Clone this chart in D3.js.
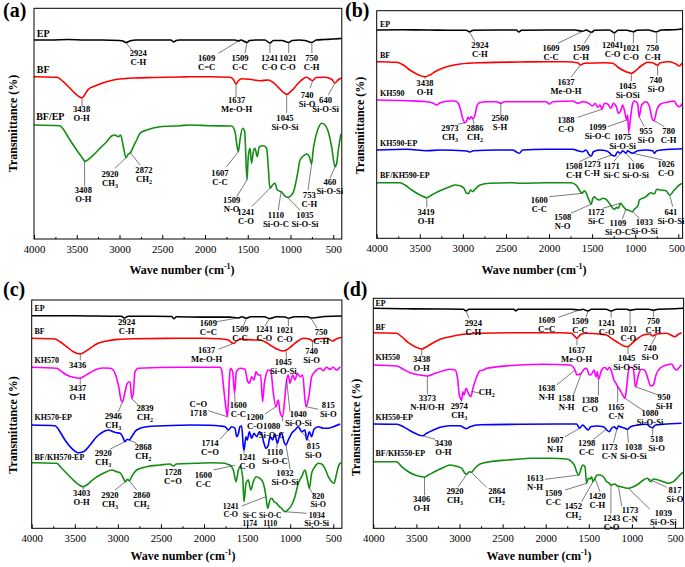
<!DOCTYPE html>
<html lang="en">
<head>
<meta charset="utf-8">
<title>FTIR spectra</title>
<script src="https://d3js.org/d3.v7.min.js"></script>
<style>
  body { margin: 0; background: #fff; }
  svg { display: block; }
  text { font-family: "Liberation Serif", "Times New Roman", serif; }
</style>
</head>
<body>
<script>
// ---- data: [wave number (cm-1), transmittance (a.u.)] ----
// panel (a)
const aEP = [[4000,199],[3800,199],[3600,199.5],[3400,199],[3200,199],[3000,198.5],[2960,198],[2924,196.5],[2880,198],[2800,199],[2600,199],[2400,199],[2365,197],[2340,198.5],[2300,199],[2000,199],[1800,199],[1650,199],[1609,198],[1580,199],[1509,196.5],[1480,198.5],[1400,199],[1300,199],[1241,196],[1200,198.5],[1100,198.5],[1021,196.5],[980,198.5],[900,199],[830,198.5],[750,196.5],[700,199],[600,199.5],[500,200],[400,200.5]];
const aBF = [[4000,162.3],[3735,161.7],[3657,157.3],[3579,150.7],[3520,145.7],[3438,141.3],[3365,149.7],[3287,153],[3189,156.3],[3072,159],[2955,160.3],[2838,161],[2600,161.5],[2293,162],[2176,162.3],[1942,162.3],[1708,161.7],[1669,159.7],[1637,155],[1610,158.3],[1571,160.3],[1474,159.7],[1357,158.3],[1260,159],[1201,156.3],[1143,151.7],[1084,146.7],[1045,144.7],[987,148.3],[909,155.7],[850,160.3],[811,161.7],[760,159],[740,158.5],[700,161.5],[600,161.7],[519,159.7],[480,156],[445,159],[400,161]];
const aBFEP = [[4000,114],[3700,113.3],[3638,107.3],[3579,99],[3501,89],[3423,79.7],[3408,77.7],[3326,82.3],[3228,90.7],[3150,97.3],[3092,103],[3053,104],[3014,102.3],[2987,104],[2955,92.3],[2924,81.3],[2897,85],[2872,86.3],[2838,92.3],[2799,99],[2760,105.7],[2682,109],[2526,112.3],[2293,113.3],[2176,114],[1942,113.3],[1688,113],[1649,107.3],[1630,95.7],[1610,87.3],[1591,99],[1560,110.7],[1536,107.3],[1509,59],[1494,82.3],[1474,90.7],[1455,75.7],[1435,87.3],[1416,90.7],[1388,82.3],[1365,92.3],[1318,93.3],[1279,90.7],[1260,72.3],[1241,50.7],[1209,54],[1182,55.7],[1154,49],[1110,47.3],[1065,43],[1035,41.7],[987,44],[948,52.3],[917,65.7],[889,79],[850,83],[811,85],[780,82.3],[753,75],[735,89],[714,99],[675,110.7],[636,115.7],[597,114],[558,107.3],[519,92.3],[480,72.3],[460,75.7],[441,89],[410,105]];

// panel (b)
const bEP = [[4000,208.3],[3700,208.5],[3400,208.3],[3100,208],[2960,208],[2924,206.5],[2880,208],[2600,208.3],[2380,208.3],[2350,206.3],[2320,208],[2000,208.3],[1700,208.3],[1609,207],[1570,208.3],[1509,206],[1470,208],[1300,208.3],[1241,205.5],[1200,208],[1100,208],[1021,206.5],[980,208],[850,208.3],[750,206.5],[700,208.3],[550,208.5],[450,209.5]];
const bBF = [[4000,176.6],[3768,176],[3691,173.3],[3614,168.3],[3536,164.3],[3438,161.6],[3382,163.3],[3304,167.6],[3188,171.6],[3033,174.3],[2801,175.6],[2337,176.3],[2000,176.6],[1800,176.6],[1668,175.6],[1637,173.3],[1590,175],[1339,175.6],[1262,175],[1184,170],[1107,166.6],[1045,165],[1010,166.6],[933,172.3],[855,176],[797,175.6],[740,173],[710,175.6],[604,176.6],[527,174.3],[488,172.3],[450,175.6]];
const bKH590 = [[4000,138.3],[3652,137.6],[3420,136.6],[3343,135],[3304,133.3],[3265,135.6],[3150,137.3],[3091,137.3],[3053,135],[3026,128.3],[3003,120],[2973,115.6],[2955,117.6],[2940,121],[2925,119],[2905,121.6],[2886,119.6],[2859,123.3],[2840,131.6],[2809,135.6],[2724,136.6],[2608,136.6],[2560,135],[2520,136.6],[2337,136.6],[2190,136.6],[2035,136.6],[1997,134.3],[1958,136.6],[1726,137.3],[1668,135],[1610,136.6],[1552,135.6],[1494,132.3],[1463,135],[1436,131],[1408,133.3],[1385,129],[1358,135],[1320,134.3],[1281,130],[1254,135],[1223,132.3],[1192,125],[1165,128.3],[1146,133.3],[1126,128.3],[1099,118.3],[1088,123.3],[1075,106.6],[1055,120],[1029,135],[1010,137.3],[972,135],[955,121.6],[925,133.3],[875,136.6],[836,132.3],[805,120],[780,117.6],[750,128.3],[705,134.3],[604,136.6],[546,137.3],[519,133.3],[488,131.6],[450,135]];
const bKH590EP = [[4000,88.3],[3650,89],[3420,87.6],[3265,88.3],[2956,87.3],[2917,86.3],[2879,87.6],[2600,88.3],[2420,88.3],[2383,86.6],[2345,85],[2306,88.3],[2035,89],[1726,89],[1668,87.6],[1610,86.6],[1571,88.3],[1532,83.3],[1508,82.3],[1486,86.6],[1416,88.3],[1339,87.6],[1300,85.6],[1273,83.3],[1235,82.3],[1204,86.6],[1171,85],[1146,87.6],[1106,85],[1088,87.6],[1049,85.6],[1026,85],[972,87.6],[875,88.3],[797,87.6],[778,85],[751,87.6],[604,89],[450,89.6]];
const bBFKH590EP = [[4000,55.6],[3730,55.6],[3672,53.3],[3594,48.3],[3498,43.3],[3419,40.6],[3362,43.3],[3265,47.6],[3150,51.6],[3091,53.3],[3033,52.6],[2987,50],[2956,45],[2937,44.6],[2910,48.3],[2886,46.6],[2859,49],[2801,53.3],[2685,55],[2420,55.6],[2345,55],[2035,55.6],[1745,55.6],[1687,53.3],[1648,48.3],[1617,45],[1590,47.6],[1571,45.6],[1545,40],[1508,34.3],[1494,39.6],[1470,41.6],[1455,40],[1416,38.3],[1378,40],[1339,39],[1300,35],[1240,29],[1215,31],[1195,30],[1172,35],[1153,33.3],[1109,29],[1075,28],[1033,26.6],[1010,29],[965,33.3],[952,38.3],[875,41.6],[817,45.6],[778,44.3],[751,49],[701,48.3],[643,47.6],[600,43.3],[546,48.3],[488,53.3],[450,55]];

// panel (c)
const cEP = [[4000,212.5],[3500,212.5],[3000,212],[2960,212],[2924,210.3],[2880,212],[2600,212],[2375,211.8],[2350,209.6],[2320,211.5],[2000,211.2],[1700,211.2],[1609,210.3],[1560,211.5],[1509,210],[1460,211.5],[1300,211.5],[1241,209.8],[1160,211.5],[1060,211.3],[1021,210],[950,211.5],[800,211.5],[750,210.3],[600,211.8],[400,212.3]];
const cBF = [[4000,190],[3730,189.3],[3672,186.6],[3594,181.6],[3517,176.6],[3436,174.3],[3401,175.6],[3323,180],[3246,184.3],[3130,187.3],[2975,189],[2821,189.6],[2279,190],[2008,190],[1815,189.6],[1718,188.3],[1679,185.6],[1652,185],[1621,187.6],[1544,189],[1428,188.3],[1351,188.3],[1293,186.6],[1235,183.3],[1157,179.3],[1080,177.3],[1045,178.3],[983,182.3],[906,187.6],[848,190],[771,189],[740,187.3],[693,189.3],[577,190],[507,187.3],[461,189.6],[400,191]];
const cKH570 = [[4000,161],[3710,160],[3652,156.6],[3594,153.3],[3517,151],[3437,150],[3401,151.6],[3323,155.6],[3246,159],[3169,160.3],[3092,160],[3053,158.3],[3014,150],[2983,138.3],[2964,128.3],[2946,126.6],[2917,136.6],[2890,145],[2859,146.6],[2839,130],[2821,135],[2801,156.6],[2763,160],[2279,161],[1931,161],[1815,161],[1796,158.3],[1770,138.3],[1745,120],[1730,111.6],[1718,125],[1705,150],[1695,160],[1668,156.6],[1645,135],[1625,156.6],[1583,160],[1525,159],[1498,148.3],[1474,145],[1447,151.6],[1420,148.3],[1397,156.6],[1370,153.3],[1343,153.3],[1320,126.6],[1300,145],[1281,153.3],[1254,158.3],[1223,156.6],[1200,138.3],[1165,121.6],[1138,128.3],[1119,116.6],[1088,111.6],[1061,131.6],[1041,148.3],[1022,153.3],[1003,145],[972,153.3],[945,148.3],[917,155],[886,151.6],[855,153.3],[828,128.3],[815,121.6],[778,135],[751,151.6],[713,156.6],[654,160],[616,157.6],[577,161],[538,159],[500,161],[461,158.3],[420,161.6]];
const cKH570EP = [[4000,103.3],[3730,102.6],[3672,96.6],[3614,88.3],[3536,80],[3459,75.6],[3401,76.6],[3323,83.3],[3246,91.6],[3169,96.6],[3111,98.3],[3053,96.6],[3014,95.6],[2975,95],[2936,90],[2920,86.6],[2890,89],[2868,88.3],[2840,91.6],[2782,98.3],[2666,101.6],[2279,103],[2163,103.3],[1931,103],[1815,102.3],[1757,101.6],[1718,98.3],[1679,101.6],[1641,100],[1621,91.6],[1602,94.3],[1583,101.6],[1563,102.3],[1544,81.6],[1536,78.3],[1513,91.6],[1498,88.3],[1474,96.6],[1447,90],[1420,95],[1389,91.6],[1358,96.6],[1331,94.3],[1304,85],[1281,80],[1254,83.3],[1235,91.6],[1204,88.3],[1177,94.3],[1150,85],[1126,91.6],[1099,95],[1072,86.6],[1049,83.3],[1022,88.3],[983,95],[945,98.3],[906,101.6],[867,96.6],[828,98.3],[809,88.3],[778,96.6],[751,91.6],[724,99],[674,101.6],[616,100],[558,100],[500,101.6],[420,104.3]];
const cBFKH570EP = [[4000,65.6],[3710,65],[3652,60],[3575,53.3],[3498,46.6],[3403,41.6],[3362,43.3],[3285,49],[3208,53.3],[3130,56.6],[3072,58.3],[3014,56.6],[2968,55],[2936,50],[2913,46.6],[2890,49],[2867,47.6],[2840,51.6],[2782,58.3],[2666,61.6],[2511,63.3],[2395,64.3],[2356,62.3],[2320,64.3],[2086,65],[1892,65.6],[1757,65],[1728,64],[1699,63.3],[1660,58.3],[1629,46.6],[1602,58.3],[1583,61.6],[1552,51.6],[1536,26.6],[1513,45],[1486,48.3],[1458,38.3],[1428,46.6],[1397,51.6],[1351,50],[1312,45],[1281,31.6],[1262,20],[1235,28.3],[1215,30],[1188,26.6],[1157,25],[1126,21.6],[1099,20],[1061,16.6],[1022,19],[983,23.3],[945,31.6],[906,45],[867,51.6],[828,58.3],[801,49],[778,40],[751,55],[713,61.6],[674,65],[635,64.3],[597,60],[558,51.6],[519,46.6],[492,45],[469,51.6],[442,61.6],[410,66]];

// panel (d)
const dEP = [[4000,220],[3600,219.5],[3200,219.3],[2955,219],[2924,217.5],[2890,219],[2400,219],[2370,219],[2350,217.5],[2320,219],[2000,219],[1700,219],[1609,218.3],[1570,219],[1509,217.3],[1470,219],[1300,219],[1241,217.3],[1180,219],[1060,219],[1021,218],[950,219],[800,219],[750,218],[700,219],[500,219.5],[400,220]];
const dBF = [[4000,195.6],[3729,195],[3671,191.6],[3593,185.6],[3516,181.6],[3438,179.3],[3381,181.6],[3303,185.6],[3226,189],[3110,191.6],[2955,194],[2762,195],[2298,195.6],[1834,195.6],[1699,195],[1660,191.6],[1637,190],[1602,193.3],[1544,195],[1370,194.3],[1292,193.3],[1254,191],[1177,186.6],[1099,182.6],[1045,181.6],[1022,183.3],[945,189],[867,193.3],[790,194.3],[759,192.3],[713,194.3],[597,195],[527,192.3],[500,191.6],[461,194],[423,195.6]];
const dKH550 = [[4000,163.3],[3729,162.3],[3651,159],[3574,155.6],[3458,153.3],[3373,152.3],[3284,155],[3187,157.6],[3110,159],[3052,158.3],[3025,151.6],[3002,133.3],[2974,128.3],[2963,136.6],[2948,133.3],[2924,140],[2897,135],[2870,131.6],[2839,141.6],[2800,151.6],[2762,157.6],[2723,158.3],[2684,160],[2298,163.3],[2027,164],[1718,163.3],[1660,158.3],[1638,153.3],[1610,154],[1583,155.6],[1556,159],[1525,160],[1494,153.3],[1467,154.3],[1440,158.3],[1416,151.6],[1401,156.6],[1388,149],[1351,158.3],[1312,161],[1285,158.3],[1262,161],[1235,156.6],[1208,148.3],[1184,145],[1165,141.6],[1138,138.3],[1107,133.3],[1080,130],[1060,141.6],[1041,156.6],[1022,161],[983,160],[960,141.6],[950,143],[925,153.3],[886,159],[848,157.6],[809,148.3],[782,142.3],[751,143.3],[720,153.3],[674,160],[597,163.3],[539,164.3],[508,160],[481,158.3],[450,161],[423,163.3]];
const dKH550EP = [[4000,104.3],[3729,104],[3651,101.6],[3574,97.6],[3497,94.3],[3430,92.6],[3381,95],[3303,98.3],[3226,101],[3110,102.6],[2994,102.6],[2948,100.6],[2924,99.6],[2878,101.6],[2762,103.6],[2298,104],[1641,104.3],[1607,100],[1571,103.3],[1532,100],[1505,98.3],[1478,101.6],[1408,102.3],[1331,101.6],[1298,99],[1262,96.6],[1235,100],[1208,101.6],[1173,99.3],[1157,102.3],[1118,101],[1080,100],[1053,99],[1014,101.6],[945,103],[829,104],[790,101.6],[759,100.6],[732,103],[635,104],[423,105]];
const dBFKH550EP = [[4000,66.6],[3729,66.6],[3671,61.6],[3593,56.6],[3516,53.3],[3439,51.6],[3406,51.3],[3361,53.3],[3265,57.6],[3168,61.6],[3110,63.3],[3052,62.3],[3013,61.6],[2975,60],[2936,55],[2917,54],[2886,56.6],[2864,56],[2820,60],[2762,64.3],[2646,66.6],[2452,68.3],[2298,69.3],[2182,70],[1950,70],[1757,69.3],[1699,66.6],[1660,61.6],[1641,56.6],[1613,53.3],[1594,58.3],[1571,63.3],[1544,61.6],[1525,45],[1505,50],[1486,49.3],[1467,51.6],[1452,46.6],[1428,50],[1401,53.3],[1370,53.3],[1331,51.6],[1292,46.6],[1262,45],[1243,43.3],[1196,44.3],[1173,42.6],[1157,42.3],[1099,41],[1041,40],[983,41.6],[925,44.3],[867,48.3],[821,50],[782,46.6],[751,49.3],[693,48.3],[635,46.6],[577,45],[519,46.6],[461,51.6],[423,55],[400,56]];

// trace names and where their labels sit (wave number, transmittance)
const aNames = ["EP", "BF", "BF/EP"];
const aNamePos = [[3968,202.5],[3968,166],[3975,119]];
const bNames = ["EP", "BF", "KH590", "KH590-EP", "BF/KH590-EP"];
const bNamePos = [[3962,211.3],[3962,180.3],[3962,142],[3962,92.6],[3962,60.3]];
const cNames = ["EP", "BF", "KH570", "KH570-EP", "BF/KH570-EP"];
const cNamePos = [[3967,217.3],[3967,194.8],[3967,165.3],[3967,108],[3967,68.6]];
const dNames = ["EP", "BF", "KH550", "KH550-EP", "BF/KH550-EP"];
const dNamePos = [[3975,222.8],[3975,198],[3975,168],[3975,108.6],[3975,72.6]];

// peak notes: leader from [x1,v1] to [x2,v2], text centred at tx, first baseline tv
// optional 9th item: line gap, 10th item: font size
const aNotes = [
  [2924,196.5,2858,189,2780,183,"2924","C-H"],
  [1609,198,1844,185.7,1981,178.5,"1609","C=C"],
  [1509,196.5,1532,185.7,1591,178.5,"1509","C-C"],
  [1241,196,1241,186,1244,178.5,"1241","C-O"],
  [1021,196.5,1021,186,1030,178.5,"1021","C-O"],
  [750,196.5,750,186,753,178.5,"750","C-H"],
  [3438,141.3,3438,133,3443,127.5,"3438","O-H"],
  [1637,155,1637,142,1630,136,"1637","Me-O-H"],
  [1045,144.7,1045,126,1065,118.5,"1045","Si-O-Si"],
  [740,158.5,772,150.7,805,141,"740","Si-O"],
  [480,156,558,144,590,136,"640","Si-O-Si"],
  [3408,77.7,3408,53,3423,46,"3408","O-H"],
  [2924,81.3,3053,70.7,3111,62.5,"2920","CH_3"],
  [2872,86.3,2760,74,2714,66,"2872","CH_2"],
  [1610,87.3,1747,72.3,1825,63.5,"1607","C-C"],
  [1509,59,1630,42.3,1688,36,"1509","N-O"],
  [1241,50.7,1454,32.3,1521,24,"1241","C-O"],
  [1110,47.3,1143,29,1170,21,"1110","Si-O-C"],
  [1035,41.7,889,29,831,21,"1035","Si-O-Si"],
  [753,75,795,49,780,41,"753","C-H"],
  [460,75.7,538,60.7,540,54,"460","Si-O-Si"]
];
const bNotes = [
  [2924,206.5,2859,196.6,2802,190.3,"2924","C-H"],
  [1609,207,1900,195,1977,187,"1609","C-C"],
  [1509,206,1590,195,1629,187,"1509","C-H"],
  [1241,205.5,1241,197,1262,190.3,"12041","C-O"],
  [1021,206.5,1021,195,1049,187,"1021","C-O"],
  [750,206.5,750,195,797,187,"750","C-H"],
  [3438,161.6,3438,159.5,3440,152.6,"3438","O-H"],
  [1637,173.3,1745,161,1803,153.6,"1637","Me-O-H"],
  [1045,165,1045,157,1088,149.3,"1045","Si-OSi"],
  [740,173,740,163,759,155.3,"740","Si-O"],
  [2973,115.6,3060,114,3150,107,"2973","CH_3"],
  [2886,119.6,2870,114,2859,107,"2886","CH_2"],
  [2560,135,2560,123.3,2569,117,"2560","S-H"],
  [1385,129,1668,121,1803,115.3,"1388","C-O"],
  [1099,118.3,1320,111.6,1436,108,"1099","Si-O-C"],
  [1075,106.6,1075,104,1146,98.6,"1075","Si-O-Si"],
  [955,121.6,894,111.6,875,104.3,"955","Si-O"],
  [780,117.6,662,111.6,612,104.3,"780","C-H"],
  [1508,82.3,1648,76.6,1712,69.6,"1508","C-H"],
  [1273,83.3,1436,78.3,1500,71.3,"1273","C-H"],
  [1171,85,1250,76.6,1275,69.6,"1171","Si-C"],
  [1106,85,1020,76.6,995,69.6,"1106","Si-O-Si"],
  [1026,85,681,78.3,643,71.3,"1026","C-O"],
  [3419,40.6,3419,31,3428,23.6,"3419","O-H"],
  [1610,45,1997,41.6,2113,35.3,"1600","C-C"],
  [1508,34.3,1745,25,1842,18.6,"1508","N-O"],
  [1172,35,1378,30,1455,23.6,"1172","Si-C"],
  [1109,29,1150,19,1200,12,"1109","Si-O-C"],
  [1033,26.6,952,20,894,13.6,"1033","Si-O-Si"],
  [600,43.3,565,31.6,585,23.6,"641","Si-O-Si"]
];
const cNotes = [
  [null,0,0,0,2898,203.6,"2924","C-H"],
  [1609,210.3,1853,206.6,1950,202,"1609","C=C"],
  [1509,210,1544,202.3,1583,196,"1509","C-C"],
  [1241,209.8,1293,202.3,1300,196,"1241","C-O"],
  [1021,210,1021,202.3,1061,195.3,"1021","C-O"],
  [760,210.3,690,200.3,640,193.6,"750","C-H"],
  [3436,174.3,3436,168,3467,160.3,"3436",""],
  [1652,185,1834,179,1970,175.3,"1637","Me-O-H"],
  [1045,178.3,1045,169.5,1080,163.6,"1045","Si-O-Si"],
  [740,187.3,740,180.5,751,174.6,"740","Si-O"],
  [3437,150,3437,144,3467,137,"3437","O-H"],
  [2946,126.6,2995,116.6,3053,109.3,"2946","CH_3"],
  [2845,130,2763,123.3,2685,117.6,"2839","CH_2"],
  [1730,111.6,1950,117.6,2066,121.3,"C=O","1718"],
  [1645,135,1640,126.6,1602,120.3,"1600","C-C"],
  [1165,121.6,1293,114.3,1409,108.6,"1200","C-O"],
  [1088,111.6,1088,107,1215,99.6,"1080","Si-O-C"],
  [1041,148.3,1003,116.6,906,111.3,"1040","Si-O-Si"],
  [815,121.6,674,119,558,120.3,"815","Si-O"],
  [2920,86.6,3092,79,3169,72,"2920","CH_3"],
  [2868,88.3,2782,85,2705,78.6,"2868","CH_2"],
  [1718,98.3,1815,89,1931,82,"1714","C=O"],
  [1536,78.3,1536,75,1498,68.6,"1241","C-O"],
  [1150,85,1157,80,1177,73.6,"1110","Si-O-C"],
  [1049,83.3,1000,59,1061,52,"1032","Si-O-Si"],
  [867,96.6,770,86.6,732,79.6,"815","Si-O"],
  [3403,41.6,3403,38.5,3420,32,"3403","O-H"],
  [2913,46.6,3033,38.3,3092,30.3,"2920","CH_3"],
  [2867,47.6,2782,38.3,2724,30.3,"2860","CH_2"],
  [null,0,0,0,2360,53.6,"1728","C=O"],
  [1640,63,1892,58.3,2008,50.3,"1600","C-C"],
  [1281,31.6,1563,22.3,1690,19.5,"1241","C-O",8,8],
  [null,0,0,0,1470,10.5,"Si-C","1174",8,7.4],
  [null,0,0,0,1232,10.5,"Si-O-C","1110",8,7.4],
  [1061,16.6,809,15,693,10.3,"1034","Si-O-Si",7.8,8],
  [778,40,732,34,674,29,"820","Si-O",8,8]
];
const dNotes = [
  [2924,217.5,2890,210,2839,202,"2924","C-H"],
  [1609,218.3,1853,211,1989,205.3,"1609","C=C"],
  [1509,217.3,1532,211,1602,204.3,"1509","C-C"],
  [1241,217.3,1241,210.5,1292,202,"1241","C-O"],
  [1021,218,1021,203,1041,196,"1021","C-O"],
  [750,218,750,211,751,204.3,"750","C-H"],
  [3438,179.3,3438,172.5,3439,166,"3438","O-H"],
  [1637,190,1637,183,1641,175.3,"1637","Me-O-H"],
  [1045,181.6,1045,174,1060,167,"1045","Si-O-Si"],
  [713,194,770,184,790,177,"740","Si-O"],
  [3373,152.3,3373,134,3373,127,"3373","N-H/O-H"],
  [2974,128.3,2986,126,3002,119.3,"2974","CH_3"],
  [2860,137,2760,135,2684,133.6,"CH_2",""],
  [1660,158.3,1873,143.3,1989,137,"1638","N-H"],
  [1583,155.6,1679,133.3,1757,127,"1581","N-H"],
  [1388,149,1388,133,1486,125.3,"1388","C-O"],
  [1165,141.6,1165,126,1184,118.6,"1165","C-N"],
  [960,141.6,693,133.3,627,128,"950","Si-H"],
  [1080,130,867,117.6,790,112,"1080","Si-O-Si"],
  [3430,92.6,3284,89,3187,82,"3430","O-H"],
  [1607,100,1776,91.6,1892,85.3,"1607","N-H"],
  [1298,99,1447,89,1525,82,"1298","C-C"],
  [1173,99.3,1215,85.6,1262,78.6,"1173","C-N"],
  [1053,99,1041,85.6,983,78.6,"1038","Si-O-Si"],
  [759,100.6,759,93,712,86,"518","Si-O"],
  [3406,51.3,3406,33,3439,26.3,"3406","O-H"],
  [2917,54,3013,41.6,3052,34.6,"2920","CH_3"],
  [2864,56,2684,41,2568,34.6,"2864","CH_2"],
  [1613,53.3,2008,49,2124,47,"1613","N-H"],
  [1525,45,1776,38.3,1911,32.6,"1509","C-C"],
  [1452,46.6,1583,26.6,1679,19.3,"1452","CH_2"],
  [1428,50,1370,36.6,1401,29.3,"1420","C-H"],
  [1243,43.3,1243,15,1235,7.6,"1243","C-O",8.8],
  [1157,42.3,1118,22.3,1022,15.3,"1173","C-N"],
  [1041,40,790,19,635,12,"1039","Si-O-Si"],
  [821,50,597,41,500,35.3,"817","Si-O"]
];

const majorTicks = [4000, 3500, 3000, 2500, 2000, 1500, 1000, 500];
const minorTicks = [3750, 3250, 2750, 2250, 1750, 1250, 750];
const colors = ["#000000", "#ff0000", "#ff00ff", "#0000ff", "#138d13"];

// ---- layout ----
const W = 685, H = 567;
const serif = "'Liberation Serif', 'Times New Roman', serif";
const noteSize = 8.6;
const noteGap = 9;
const panels = [
  { tag: "(a)", series: [aEP, aBF, aBFEP], cols: [colors[0], colors[1], colors[4]],
    names: aNames, namePos: aNamePos, notes: aNotes, nameSize: 10,
    left: 34, right: 341.8, top: 8.3, bottom: 239, end: 400,
    tagX: 3, tagY: 16.5, titleX: 182, titleY: 274, yTitleX: 12.5, yTitleY: 123.5 },
  { tag: "(b)", series: [bEP, bBF, bKH590, bKH590EP, bBFKH590EP], cols: colors,
    names: bNames, namePos: bNamePos, notes: bNotes, nameSize: 8,
    left: 376.7, right: 682.6, top: 10.7, bottom: 238.3, end: 450,
    tagX: 345, tagY: 16.5, titleX: 534, titleY: 274, yTitleX: 360, yTitleY: 125.5 },
  { tag: "(c)", series: [cEP, cBF, cKH570, cKH570EP, cBFKH570EP], cols: colors,
    names: cNames, namePos: cNamePos, notes: cNotes, nameSize: 8,
    left: 31.7, right: 341.9, top: 300, bottom: 528.3, end: 400,
    tagX: 3, tagY: 296, titleX: 183, titleY: 560, yTitleX: 12.5, yTitleY: 425 },
  { tag: "(d)", series: [dEP, dBF, dKH550, dKH550EP, dBFKH550EP], cols: colors,
    names: dNames, namePos: dNamePos, notes: dNotes, nameSize: 8,
    left: 373.3, right: 683.6, top: 298.3, bottom: 528.3, end: 400,
    tagX: 343, tagY: 296, titleX: 539, titleY: 560, yTitleX: 356, yTitleY: 427.5 }
];

const svg = d3.select("body").append("svg")
  .attr("width", W).attr("height", H);

// text with "CH_3" style subscripts
function putText(sel, str, size) {
  const parts = str.split("_");
  sel.text(null);
  sel.append("tspan").text(parts[0]);
  if (parts.length > 1) {
    sel.append("tspan").attr("font-size", size * 0.7).attr("dy", size * 0.25).text(parts[1]);
  }
}

panels.forEach(function (p, pi) {
  const x = d3.scaleLinear().domain([4000, p.end]).range([p.left, p.right]);
  const y = d3.scaleLinear().domain([0, p.bottom - p.top]).range([p.bottom, p.top]);
  const g = svg.append("g");

  g.append("clipPath").attr("id", "clip" + pi)
    .append("rect").attr("x", p.left).attr("y", p.top)
    .attr("width", p.right - p.left).attr("height", p.bottom - p.top);

  // ticks (inward) on the bottom axis
  const major = g.append("g").attr("transform", "translate(0," + p.bottom + ")")
    .call(d3.axisBottom(x).tickValues(majorTicks).tickFormat(d3.format("d"))
      .tickSizeInner(-4).tickSizeOuter(0).tickPadding(6.5));
  major.select(".domain").remove();
  major.selectAll("text")
    .style("font-family", serif).style("font-size", "10.8px").attr("fill", "#000");
  // keep the last label inside the picture
  major.selectAll("text").each(function (d) {
    const box = this.getBBox();
    const right = x(d) + box.x + box.width;
    if (right > W - 0.5) d3.select(this).attr("dx", (W - 0.5 - right).toFixed(1));
  });
  const minor = g.append("g").attr("transform", "translate(0," + p.bottom + ")")
    .call(d3.axisBottom(x).tickValues(minorTicks).tickSizeInner(-2).tickSizeOuter(0));
  minor.select(".domain").remove();
  minor.selectAll("text").remove();

  // spectra
  const line = d3.line()
    .x(function (d) { return x(d[0]); })
    .y(function (d) { return y(d[1]); })
    .curve(d3.curveMonotoneX);
  const traces = g.append("g").attr("clip-path", "url(#clip" + pi + ")");
  p.series.forEach(function (s, i) {
    traces.append("path").datum(s)
      .attr("d", line)
      .attr("fill", "none")
      .attr("stroke", p.cols[i])
      .attr("stroke-width", 1.6)
      .attr("stroke-linejoin", "round");
  });

  // frame
  g.append("rect").attr("x", p.left).attr("y", p.top)
    .attr("width", p.right - p.left).attr("height", p.bottom - p.top)
    .attr("fill", "none").attr("stroke", "#000").attr("stroke-width", 1);

  // trace names
  p.names.forEach(function (n, i) {
    g.append("text")
      .attr("x", x(p.namePos[i][0])).attr("y", y(p.namePos[i][1]))
      .attr("font-size", p.nameSize).attr("font-weight", "bold")
      .text(n);
  });

  // peak notes
  p.notes.forEach(function (n) {
    if (n[0] !== null) {
      g.append("line")
        .attr("x1", x(n[0])).attr("y1", y(n[1]))
        .attr("x2", x(n[2])).attr("y2", y(n[3]))
        .attr("stroke", "#444").attr("stroke-width", 0.7);
    }
    const gap = n[8] || noteGap;
    const fs = n[9] || noteSize;
    const t1 = g.append("text").attr("x", x(n[4])).attr("y", y(n[5]))
      .attr("text-anchor", "middle").attr("font-size", fs).attr("font-weight", "bold");
    putText(t1, n[6], fs);
    if (n[7]) {
      const t2 = g.append("text").attr("x", x(n[4])).attr("y", y(n[5]) + gap)
        .attr("text-anchor", "middle").attr("font-size", fs).attr("font-weight", "bold");
      putText(t2, n[7], fs);
    }
  });

  // titles
  g.append("text").attr("x", p.tagX).attr("y", p.tagY)
    .attr("font-size", 20).attr("font-weight", "bold").text(p.tag);

  const xt = g.append("text").attr("x", p.titleX).attr("y", p.titleY)
    .attr("text-anchor", "middle").attr("font-size", 12).attr("font-weight", "bold");
  xt.append("tspan").text("Wave number (cm");
  xt.append("tspan").attr("font-size", 8).attr("dy", -5).text("-1");
  xt.append("tspan").attr("dy", 5).text(")");

  g.append("text")
    .attr("transform", "translate(" + p.yTitleX + "," + p.yTitleY + ") rotate(-90)")
    .attr("text-anchor", "middle").attr("dominant-baseline", "central")
    .attr("font-size", 12).attr("font-weight", "bold")
    .text("Transmittance (%)");
});
</script>
</body>
</html>
